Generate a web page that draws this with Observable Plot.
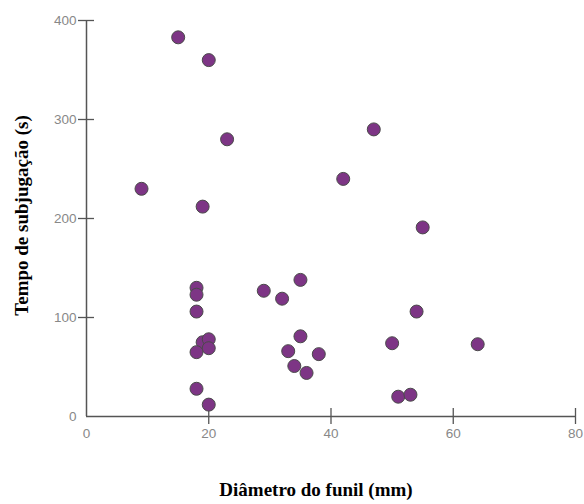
<!DOCTYPE html>
<html>
<head>
<meta charset="utf-8">
<script src="https://cdn.jsdelivr.net/npm/d3@7"></script>
<script src="https://cdn.jsdelivr.net/npm/@observablehq/plot@0.6"></script>
<style>
  html, body { margin: 0; padding: 0; background: #fff; }
</style>
</head>
<body>
<div id="chart"></div>
<script>
// Diâmetro do funil (mm)
const diametro = [15, 20, 23, 9, 19, 47, 42, 55, 18, 18, 18, 19, 20, 20, 18, 18, 20, 29, 32, 33, 34, 35, 35, 38, 36, 54, 50, 64, 51, 53];
// Tempo de subjugação (s)
const tempo = [383, 360, 280, 230, 212, 290, 240, 191, 130, 123, 106, 75, 78, 69, 65, 28, 12, 127, 119, 66, 51, 138, 81, 63, 44, 106, 74, 73, 20, 22];
const xTicks = [0, 20, 40, 60, 80];
const yTicks = [0, 100, 200, 300, 400];
const xTitle = "Diâmetro do funil (mm)";
const yTitle = "Tempo de subjugação (s)";

const data = diametro.map((d, i) => ({x: d, y: tempo[i]}));

const chart = Plot.plot({
  width: 584,
  height: 504,
  marginLeft: 86,
  marginRight: 9,
  marginTop: 20,
  marginBottom: 88,
  style: {background: "#fff"},
  x: {domain: [0, 80], axis: null},
  y: {domain: [0, 400], axis: null},
  marks: [
    Plot.ruleX([0], {stroke: "#555", strokeWidth: 1.5}),
    Plot.ruleY([0], {stroke: "#555", strokeWidth: 1.5}),
    // crossing ticks
    Plot.axisY({ticks: yTicks.filter(d => d > 0), tickSize: 8, text: null, label: null, stroke: "#555", strokeWidth: 1.3}),
    Plot.axisY({ticks: yTicks.filter(d => d > 0), tickSize: 8, dx: 8, text: null, label: null, stroke: "#555", strokeWidth: 1.3}),
    Plot.axisX({ticks: xTicks.filter(d => d > 0), tickSize: 8, text: null, label: null, stroke: "#555", strokeWidth: 1.3}),
    Plot.axisX({ticks: xTicks.filter(d => d > 0), tickSize: 8, dy: -8, text: null, label: null, stroke: "#555", strokeWidth: 1.3}),
    // tick labels
    Plot.axisY({ticks: yTicks, tickSize: 0, tickPadding: 10, label: null, fill: "#888", fontSize: 13.5, fontFamily: "Liberation Sans, Arial, sans-serif"}),
    Plot.axisX({ticks: xTicks, tickSize: 0, tickPadding: 12, label: null, fill: "#888", fontSize: 13.5, fontFamily: "Liberation Sans, Arial, sans-serif"}),
    // points
    Plot.dot(data, {x: "x", y: "y", r: 6.5, fill: "#7d3585", stroke: "#4a4a4a", strokeWidth: 1}),
    // axis titles
    Plot.text([xTitle], {frameAnchor: "bottom", dx: -15, dy: 79, text: d => d, fontSize: 19, fontWeight: "bold", fontFamily: "Liberation Serif, Times New Roman, serif", fill: "#000"}),
    Plot.text([yTitle], {frameAnchor: "left", textAnchor: "middle", dx: -65, dy: -3, rotate: -90, text: d => d, fontSize: 19, fontWeight: "bold", fontFamily: "Liberation Serif, Times New Roman, serif", fill: "#000"})
  ]
});
document.getElementById("chart").appendChild(chart);
</script>
</body>
</html>
